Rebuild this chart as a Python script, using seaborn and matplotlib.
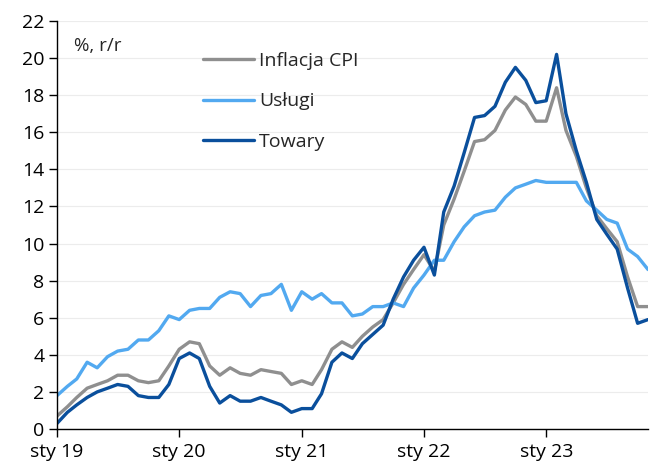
import pandas as pd
import matplotlib
matplotlib.use('Agg')
import matplotlib.pyplot as plt
import seaborn as sns

# monthly y/y inflation, Jan 2019 - Nov 2023
months = pd.date_range('2019-01-01', '2023-11-01', freq='MS')

cpi = [0.7, 1.2, 1.7, 2.2, 2.4, 2.6, 2.9, 2.9, 2.6, 2.5, 2.6, 3.4,
       4.3, 4.7, 4.6, 3.4, 2.9, 3.3, 3.0, 2.9, 3.2, 3.1, 3.0, 2.4,
       2.6, 2.4, 3.2, 4.3, 4.7, 4.4, 5.0, 5.5, 5.9, 6.8, 7.8, 8.6,
       9.4, 8.5, 11.0, 12.4, 13.9, 15.5, 15.6, 16.1, 17.2, 17.9, 17.5, 16.6,
       16.6, 18.4, 16.1, 14.7, 13.0, 11.5, 10.8, 10.1, 8.2, 6.6, 6.6]

uslugi = [1.8, 2.3, 2.7, 3.6, 3.3, 3.9, 4.2, 4.3, 4.8, 4.8, 5.3, 6.1,
          5.9, 6.4, 6.5, 6.5, 7.1, 7.4, 7.3, 6.6, 7.2, 7.3, 7.8, 6.4,
          7.4, 7.0, 7.3, 6.8, 6.8, 6.1, 6.2, 6.6, 6.6, 6.8, 6.6, 7.6,
          8.3, 9.1, 9.1, 10.1, 10.9, 11.5, 11.7, 11.8, 12.5, 13.0, 13.2, 13.4,
          13.3, 13.3, 13.3, 13.3, 12.3, 11.8, 11.3, 11.1, 9.7, 9.3, 8.6]

towary = [0.3, 0.9, 1.3, 1.7, 2.0, 2.2, 2.4, 2.3, 1.8, 1.7, 1.7, 2.4,
          3.8, 4.1, 3.8, 2.3, 1.4, 1.8, 1.5, 1.5, 1.7, 1.5, 1.3, 0.9,
          1.1, 1.1, 1.9, 3.6, 4.1, 3.8, 4.6, 5.1, 5.6, 7.0, 8.2, 9.1,
          9.8, 8.3, 11.7, 13.1, 14.9, 16.8, 16.9, 17.4, 18.7, 19.5, 18.8, 17.6,
          17.7, 20.2, 17.0, 15.0, 13.3, 11.3, 10.5, 9.7, 7.6, 5.7, 5.9]

series_names = ['Inflacja CPI', 'Usługi', 'Towary']
tick_labels = ['sty 19', 'sty 20', 'sty 21', 'sty 22', 'sty 23']

df = pd.DataFrame({'data': months, 'Inflacja CPI': cpi, 'Usługi': uslugi, 'Towary': towary})
long = df.melt(id_vars='data', var_name='seria', value_name='wartosc')

sns.set_style('white')
plt.rcParams['font.family'] = ['Open Sans', 'DejaVu Sans']

fig, ax = plt.subplots(figsize=(6.54, 4.66), dpi=100)
fig.subplots_adjust(left=57/654, right=648/654, top=1-21/466, bottom=1-429/466)

palette = {'Inflacja CPI': '#8f8f8f', 'Usługi': '#52a9f0', 'Towary': '#0a4f9c'}
sns.lineplot(data=long, x='data', y='wartosc', hue='seria', hue_order=series_names,
             palette=palette, linewidth=2.4, ax=ax)

ax.set_xlim(months[0], months[-1])
ax.set_ylim(0, 22)
ax.set_yticks(range(0, 23, 2))
ax.set_xticks(months[::12])
ax.set_xticklabels(tick_labels)
ax.set_xlabel('')
ax.set_ylabel('')
ax.grid(axis='y', color='#ececec', linewidth=0.8)
ax.set_axisbelow(True)

for s in ['top', 'right']:
    ax.spines[s].set_visible(False)
for s in ['left', 'bottom']:
    ax.spines[s].set_color('black')
    ax.spines[s].set_linewidth(1.0)
ax.tick_params(axis='both', which='major', labelsize=14, colors='black',
               length=6, width=1, direction='out', left=True, bottom=True)
ax.tick_params(axis='y', pad=3)
ax.tick_params(axis='x', pad=4)

ax.text(0.028, 0.96, '%, r/r', transform=ax.transAxes, fontsize=13.5, va='top', ha='left')

leg = ax.legend(loc='upper left', bbox_to_anchor=(0.218, 0.967), frameon=False,
                fontsize=14, handlelength=2.6, handletextpad=0.25, labelspacing=1.15)
for line in leg.get_lines():
    line.set_linewidth(2.4)

fig.savefig('out.png', dpi=100)
